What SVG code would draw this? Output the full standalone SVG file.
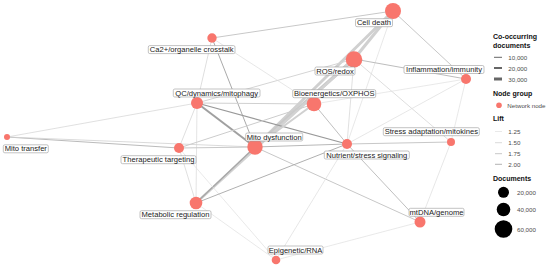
<svg xmlns="http://www.w3.org/2000/svg" width="550" height="268" viewBox="0 0 550 268">
<style>
.bg{fill:#fff}
.e{fill:none;stroke-linecap:butt}
.n{fill:#F8766D}
.lb rect{fill:#fff;stroke:#9a9a9a;stroke-width:0.6}
.lb text,.lg text{font-family:"Liberation Sans",Arial,sans-serif;font-size:7.6px;fill:#222;text-anchor:middle;dominant-baseline:central}
.lg text{text-anchor:start;font-size:6.2px;fill:#4d4d4d}
.lg text.h{font-weight:bold;font-size:7px;fill:#111}
</style>
<rect class="bg" x="0" y="0" width="550" height="268"/>
<g id="connectors">
<line class="e" x1="393" y1="11" x2="212" y2="38" stroke-width="1" stroke="#c8c8c8"/>
<line class="e" x1="393" y1="11" x2="354" y2="59" stroke-width="3" stroke="#d0d0d0"/>
<line class="e" x1="393" y1="11" x2="255" y2="147" stroke-width="3" stroke="#d0d0d0"/>
<line class="e" x1="393" y1="11" x2="466" y2="79" stroke-width="1" stroke="#c8c8c8"/>
<line class="e" x1="393" y1="11" x2="347" y2="144" stroke-width="0.7" stroke="#dedede"/>
<line class="e" x1="354" y1="59" x2="255" y2="147" stroke-width="3.5" stroke="#c9c9c9"/>
<line class="e" x1="354" y1="59" x2="196" y2="203" stroke-width="2.5" stroke="#d2d2d2"/>
<line class="e" x1="255" y1="147" x2="196" y2="203" stroke-width="1.5" stroke="#a8a8a8"/>
<line class="e" x1="354" y1="59" x2="466" y2="79" stroke-width="1" stroke="#bdbdbd"/>
<line class="e" x1="354" y1="59" x2="451" y2="142" stroke-width="0.8" stroke="#d5d5d5"/>
<line class="e" x1="354" y1="59" x2="347" y2="144" stroke-width="0.8" stroke="#d8d8d8"/>
<line class="e" x1="354" y1="59" x2="197" y2="103" stroke-width="1" stroke="#d5d5d5"/>
<line class="e" x1="212" y1="38" x2="197" y2="103" stroke-width="0.8" stroke="#d5d5d5"/>
<line class="e" x1="212" y1="38" x2="255" y2="147" stroke-width="1" stroke="#aaaaaa"/>
<line class="e" x1="212" y1="38" x2="314" y2="104" stroke-width="0.7" stroke="#dcdcdc"/>
<line class="e" x1="197" y1="103" x2="255" y2="147" stroke-width="2" stroke="#a0a0a0"/>
<line class="e" x1="197" y1="103" x2="347" y2="144" stroke-width="1.2" stroke="#999999"/>
<line class="e" x1="197" y1="103" x2="314" y2="104" stroke-width="1" stroke="#d0d0d0"/>
<line class="e" x1="197" y1="103" x2="7" y2="137" stroke-width="0.8" stroke="#d8d8d8"/>
<line class="e" x1="197" y1="103" x2="179" y2="148" stroke-width="0.8" stroke="#d5d5d5"/>
<line class="e" x1="197" y1="103" x2="196" y2="203" stroke-width="0.8" stroke="#dddddd"/>
<line class="e" x1="7" y1="137" x2="179" y2="148" stroke-width="1" stroke="#bbbbbb"/>
<line class="e" x1="7" y1="137" x2="255" y2="147" stroke-width="0.8" stroke="#d0d0d0"/>
<line class="e" x1="179" y1="148" x2="255" y2="147" stroke-width="1" stroke="#c8c8c8"/>
<line class="e" x1="179" y1="148" x2="196" y2="203" stroke-width="0.8" stroke="#d8d8d8"/>
<line class="e" x1="179" y1="148" x2="276" y2="260" stroke-width="0.7" stroke="#e0e0e0"/>
<line class="e" x1="314" y1="104" x2="255" y2="147" stroke-width="2" stroke="#d0d0d0"/>
<line class="e" x1="314" y1="104" x2="347" y2="144" stroke-width="1" stroke="#c0c0c0"/>
<line class="e" x1="314" y1="104" x2="466" y2="79" stroke-width="0.7" stroke="#e0e0e0"/>
<line class="e" x1="314" y1="104" x2="179" y2="148" stroke-width="1" stroke="#cccccc"/>
<line class="e" x1="255" y1="147" x2="347" y2="144" stroke-width="1.2" stroke="#b8b8b8"/>
<line class="e" x1="255" y1="147" x2="420" y2="222" stroke-width="1" stroke="#c8c8c8"/>
<line class="e" x1="196" y1="203" x2="347" y2="144" stroke-width="1" stroke="#b0b0b0"/>
<line class="e" x1="196" y1="203" x2="276" y2="260" stroke-width="0.7" stroke="#e0e0e0"/>
<line class="e" x1="347" y1="144" x2="451" y2="142" stroke-width="1" stroke="#c8c8c8"/>
<line class="e" x1="347" y1="144" x2="420" y2="222" stroke-width="1" stroke="#c0c0c0"/>
<line class="e" x1="347" y1="144" x2="276" y2="260" stroke-width="0.7" stroke="#dcdcdc"/>
<line class="e" x1="347" y1="144" x2="466" y2="79" stroke-width="0.7" stroke="#dcdcdc"/>
<line class="e" x1="466" y1="79" x2="451" y2="142" stroke-width="0.7" stroke="#e0e0e0"/>
<line class="e" x1="451" y1="142" x2="420" y2="222" stroke-width="0.7" stroke="#dcdcdc"/>
<line class="e" x1="420" y1="222" x2="276" y2="260" stroke-width="0.7" stroke="#e0e0e0"/>
</g>
<g id="node-cell-death"><circle class="n" cx="393" cy="11" r="8"/></g>
<g id="node-ca2"><circle class="n" cx="212" cy="38" r="4.7"/></g>
<g id="node-ros"><circle class="n" cx="354" cy="59.5" r="8.3"/></g>
<g id="node-inflammation"><circle class="n" cx="466" cy="79" r="5"/></g>
<g id="node-qc"><circle class="n" cx="197" cy="103" r="6"/></g>
<g id="node-bioenergetics"><circle class="n" cx="314" cy="104" r="7.3"/></g>
<g id="node-mito-transfer"><circle class="n" cx="7" cy="137" r="3"/></g>
<g id="node-mito-dysfunction"><circle class="n" cx="255" cy="147" r="7.7"/></g>
<g id="node-nutrient"><circle class="n" cx="347" cy="144" r="5"/></g>
<g id="node-stress-adaptation"><circle class="n" cx="451" cy="142" r="4"/></g>
<g id="node-therapeutic"><circle class="n" cx="179" cy="148" r="5"/></g>
<g id="node-metabolic"><circle class="n" cx="196" cy="203" r="6.3"/></g>
<g id="node-mtdna"><circle class="n" cx="420" cy="222" r="5.5"/></g>
<g id="node-epigenetic"><circle class="n" cx="276" cy="260" r="4.3"/></g>
<g id="labels">
<g class="lb"><rect x="355.5" y="18.7" width="37" height="8" rx="1.5"/><text x="374" y="22.7">Cell death</text></g>
<g class="lb"><rect x="148.3" y="45.6" width="86.7" height="8" rx="1.5"/><text x="191.7" y="49.6">Ca2+/organelle crosstalk</text></g>
<g class="lb"><rect x="315" y="67" width="40" height="8" rx="1.5"/><text x="335" y="71">ROS/redox</text></g>
<g class="lb"><rect x="404" y="65.5" width="80" height="8" rx="1.5"/><text x="444" y="69.5">Inflammation/immunity</text></g>
<g class="lb"><rect x="173.3" y="89" width="86.7" height="8" rx="1.5"/><text x="216.7" y="93">QC/dynamics/mitophagy</text></g>
<g class="lb"><rect x="292.7" y="89.7" width="83" height="8" rx="1.5"/><text x="334.2" y="93.7">Bioenergetics/OXPHOS</text></g>
<g class="lb"><rect x="245.7" y="133" width="57" height="8" rx="1.5"/><text x="274.2" y="137">Mito dysfunction</text></g>
<g class="lb"><rect x="324.3" y="151" width="85" height="8" rx="1.5"/><text x="366.8" y="155">Nutrient/stress signaling</text></g>
<g class="lb"><rect x="383.3" y="127.7" width="96" height="8" rx="1.5"/><text x="431.3" y="131.7">Stress adaptation/mitokines</text></g>
<g class="lb"><rect x="3.3" y="144.8" width="45" height="8" rx="1.5"/><text x="25.8" y="148.8">Mito transfer</text></g>
<g class="lb"><rect x="121" y="155.7" width="75" height="8" rx="1.5"/><text x="158.5" y="159.7">Therapeutic targeting</text></g>
<g class="lb"><rect x="140" y="210.7" width="71" height="8" rx="1.5"/><text x="175.5" y="214.7">Metabolic regulation</text></g>
<g class="lb"><rect x="409" y="208.3" width="55" height="8" rx="1.5"/><text x="436.5" y="212.3">mtDNA/genome</text></g>
<g class="lb"><rect x="268" y="246" width="55" height="8" rx="1.5"/><text x="295.5" y="250">Epigenetic/RNA</text></g>
</g>
<g id="legend" class="lg">
<text class="h" x="493" y="36.5">Co-occurring</text>
<text class="h" x="493" y="45">documents</text>
<line x1="494" y1="57.3" x2="502" y2="57.3" stroke="#666" stroke-width="1"/>
<line x1="494" y1="68" x2="502" y2="68" stroke="#666" stroke-width="2"/>
<line x1="494" y1="79" x2="502" y2="79" stroke="#666" stroke-width="3"/>
<text x="508.3" y="57.3">10,000</text>
<text x="508.3" y="68">20,000</text>
<text x="508.3" y="79">30,000</text>
<text class="h" x="493" y="93.3">Node group</text>
<circle cx="499" cy="105.3" r="2.8" fill="#F8766D"/>
<text x="507.3" y="105.3">Network node</text>
<text class="h" x="493" y="118.3">Lift</text>
<line x1="495" y1="131.5" x2="502" y2="131.5" stroke="#e3e3e3" stroke-width="0.8"/>
<line x1="495" y1="142.7" x2="502" y2="142.7" stroke="#cfcfcf" stroke-width="0.8"/>
<line x1="495" y1="153.7" x2="502" y2="153.7" stroke="#b9b9b9" stroke-width="0.8"/>
<line x1="495" y1="164.3" x2="502" y2="164.3" stroke="#a0a0a0" stroke-width="0.8"/>
<text x="508.3" y="131.5">1.25</text>
<text x="508.3" y="142.7">1.50</text>
<text x="508.3" y="153.7">1.75</text>
<text x="508.3" y="164.3">2.00</text>
<text class="h" x="493" y="178.7">Documents</text>
<circle cx="503.5" cy="192.3" r="5.5" fill="#000"/>
<circle cx="503.5" cy="209.5" r="6.8" fill="#000"/>
<circle cx="503.5" cy="229" r="8.8" fill="#000"/>
<text x="517" y="192.3">20,000</text>
<text x="517" y="209.5">40,000</text>
<text x="517" y="229">60,000</text>
</g>
</svg>
